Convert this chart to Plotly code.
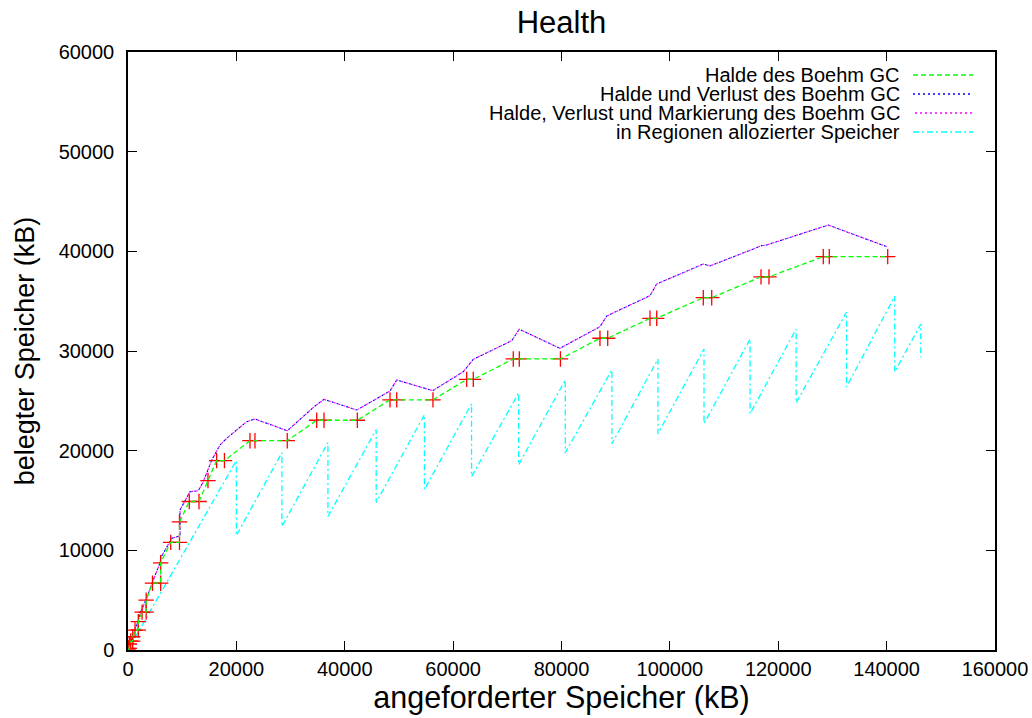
import plotly.graph_objects as go

# ---------------- data (kB) ----------------
heap_x = [0, 120, 240, 240, 500, 870, 870, 1290, 1900, 1900,
          2600, 3350, 3350, 4520, 6030, 6030, 7880, 9500, 9500, 11310,
          13100, 14760, 16360, 17800, 22510, 23430, 29390, 34820, 36170, 42320,
          48350, 49590, 56280, 62500, 63720, 71100, 72210, 79800, 87100, 88530,
          96330, 97570, 106170, 107720, 116820, 118290, 128310, 129420, 140200]
heap_y = [0, 170, 170, 600, 900, 900, 1330, 2000, 2000, 2840,
          3800, 3800, 5000, 6700, 6700, 8750, 10800, 10800, 12850, 14900,
          14900, 17000, 19000, 19000, 21000, 21000, 21000, 23050, 23050, 23050,
          25100, 25100, 25100, 27150, 27150, 29200, 29200, 29200, 31280, 31280,
          33280, 33280, 35350, 35350, 37440, 37440, 39470, 39470, 39470]

loss_x = [0, 370, 870, 1290, 1900, 2340, 3450, 4520, 5900, 6030,
          8070, 9600, 9600, 11440, 12970, 13900, 15450, 16980, 18210, 21910,
          23440, 29400, 34510, 36170, 42210, 48350, 49590, 56230, 61880, 63720,
          70810, 72210, 79720, 87100, 88340, 96330, 97570, 106170, 107400, 116950,
          117870, 129240, 140010]
loss_y = [0, 700, 1400, 2110, 2910, 3810, 5220, 6820, 8730, 9230,
          11210, 11440, 14050, 15880, 15980, 16890, 19060, 20570, 21240, 22910,
          23180, 22000, 24480, 25150, 24080, 25990, 27090, 26020, 27920, 29170,
          31030, 32180, 30270, 32440, 33510, 35550, 36720, 38730, 38530, 40570,
          40640, 42640, 40470]
mark_x = loss_x
mark_y = loss_y

region_peak_x = [20000, 28400, 36900, 45800, 54700, 63400, 72100, 80700,
                 89300, 97800, 106300, 114800, 123300, 132600, 141500, 146300]
region_peak_y = [19000, 19800, 20800, 22100, 23600, 24700, 25800, 27100,
                 28100, 29200, 30200, 31200, 32200, 33900, 35500, 32700]
region_trough_y = [11500, 12400, 13400, 14800, 16100, 17400, 18600, 19800,
                   20700, 21700, 22700, 23700, 24800, 26400, 27900, 29400]

legend_labels = ["Halde des Boehm GC",
                 "Halde und Verlust des Boehm GC",
                 "Halde, Verlust und Markierung des Boehm GC",
                 "in Regionen allozierter Speicher"]

# ---------------- styles ----------------
FONT = "Liberation Sans"
GREEN, BLUE, MAGENTA, CYAN, RED = "#00ff00", "#0000ff", "#ff00ff", "#00ffff", "#ff0000"
DASH_GREEN = "5px,3px"
DASH_BLUE = "2px,3px"
DASH_MAG = "0px,2px,2px,1px"
DASH_CYAN = "6px,3px,2px,3px"

region_x = [0]
region_y = [0]
for px, py, ty in zip(region_peak_x, region_peak_y, region_trough_y):
    region_x += [px, px]
    region_y += [py, ty]

fig = go.Figure()
fig.add_trace(go.Scatter(x=region_x, y=region_y, mode="lines",
                         line=dict(color=CYAN, width=1.3, dash=DASH_CYAN),
                         name=legend_labels[3], showlegend=False))
fig.add_trace(go.Scatter(x=loss_x, y=loss_y, mode="lines",
                         line=dict(color=BLUE, width=1.1, dash=DASH_BLUE),
                         name=legend_labels[1], showlegend=False))
fig.add_trace(go.Scatter(x=mark_x, y=mark_y, mode="lines",
                         line=dict(color=MAGENTA, width=1.1, dash=DASH_MAG),
                         name=legend_labels[2], showlegend=False))
fig.add_trace(go.Scatter(x=heap_x, y=heap_y, mode="markers",
                         marker=dict(symbol="cross-thin", size=11, color=RED,
                                     line=dict(color=RED, width=1.3)),
                         showlegend=False))
fig.add_trace(go.Scatter(x=heap_x, y=heap_y, mode="lines",
                         line=dict(color=GREEN, width=1.3, dash=DASH_GREEN),
                         name=legend_labels[0], showlegend=False))

# ---------------- gnuplot style key (text left of sample) ----------------
L, R, T, B = 128, 37, 52, 68
W, H = 1032, 718
pw, ph = W - L - R, H - T - B
rows_px = [75, 94, 113, 132]
styles = [(GREEN, DASH_GREEN), (BLUE, DASH_BLUE), (MAGENTA, DASH_MAG), (CYAN, DASH_CYAN)]
for lab, ypx, (col, dsh) in zip(legend_labels, rows_px, styles):
    yp = (H - B - ypx) / ph
    fig.add_annotation(x=(901 - L) / pw, y=yp, xref="paper", yref="paper",
                       text=lab, showarrow=False, xanchor="right", yanchor="middle",
                       borderpad=0,
                       font=dict(family=FONT, size=20, color="black"))
    fig.add_shape(type="line", xref="paper", yref="paper",
                  x0=(913 - L) / pw, x1=(973 - L) / pw, y0=yp, y1=yp,
                  line=dict(color=col, width=1.3, dash=dsh))

axis_common = dict(showline=True, linecolor="black", linewidth=1.5, mirror="ticks",
                   ticks="inside", ticklen=9, tickcolor="black", tickwidth=1.2,
                   showgrid=False, zeroline=False, tickformat="d", automargin=False,
                   tickfont=dict(family=FONT, size=20, color="black"))

fig.update_layout(
    width=W, height=H,
    margin=dict(l=L, r=R, t=T, b=B, autoexpand=False),
    paper_bgcolor="white", plot_bgcolor="white",
    title=dict(text="Health", x=0.5, xref="paper", y=1 - 22 / H, yanchor="middle",
               font=dict(family=FONT, size=31, color="black")),
    xaxis=dict(range=[0, 160000], dtick=20000, tick0=0,
               title=dict(text="angeforderter Speicher (kB)", standoff=6,
                          font=dict(family=FONT, size=30.5, color="black")),
               **axis_common),
    yaxis=dict(range=[0, 60000], dtick=10000, tick0=0, ticklabelstandoff=8,
               title=dict(text="belegter Speicher (kB)", standoff=16,
                          font=dict(family=FONT, size=27, color="black")),
               **axis_common),
    showlegend=False,
)

fig.write_html("out.html", config={"displayModeBar": False},
               post_script="document.body.style.margin='0px';document.body.style.overflow='hidden';")
